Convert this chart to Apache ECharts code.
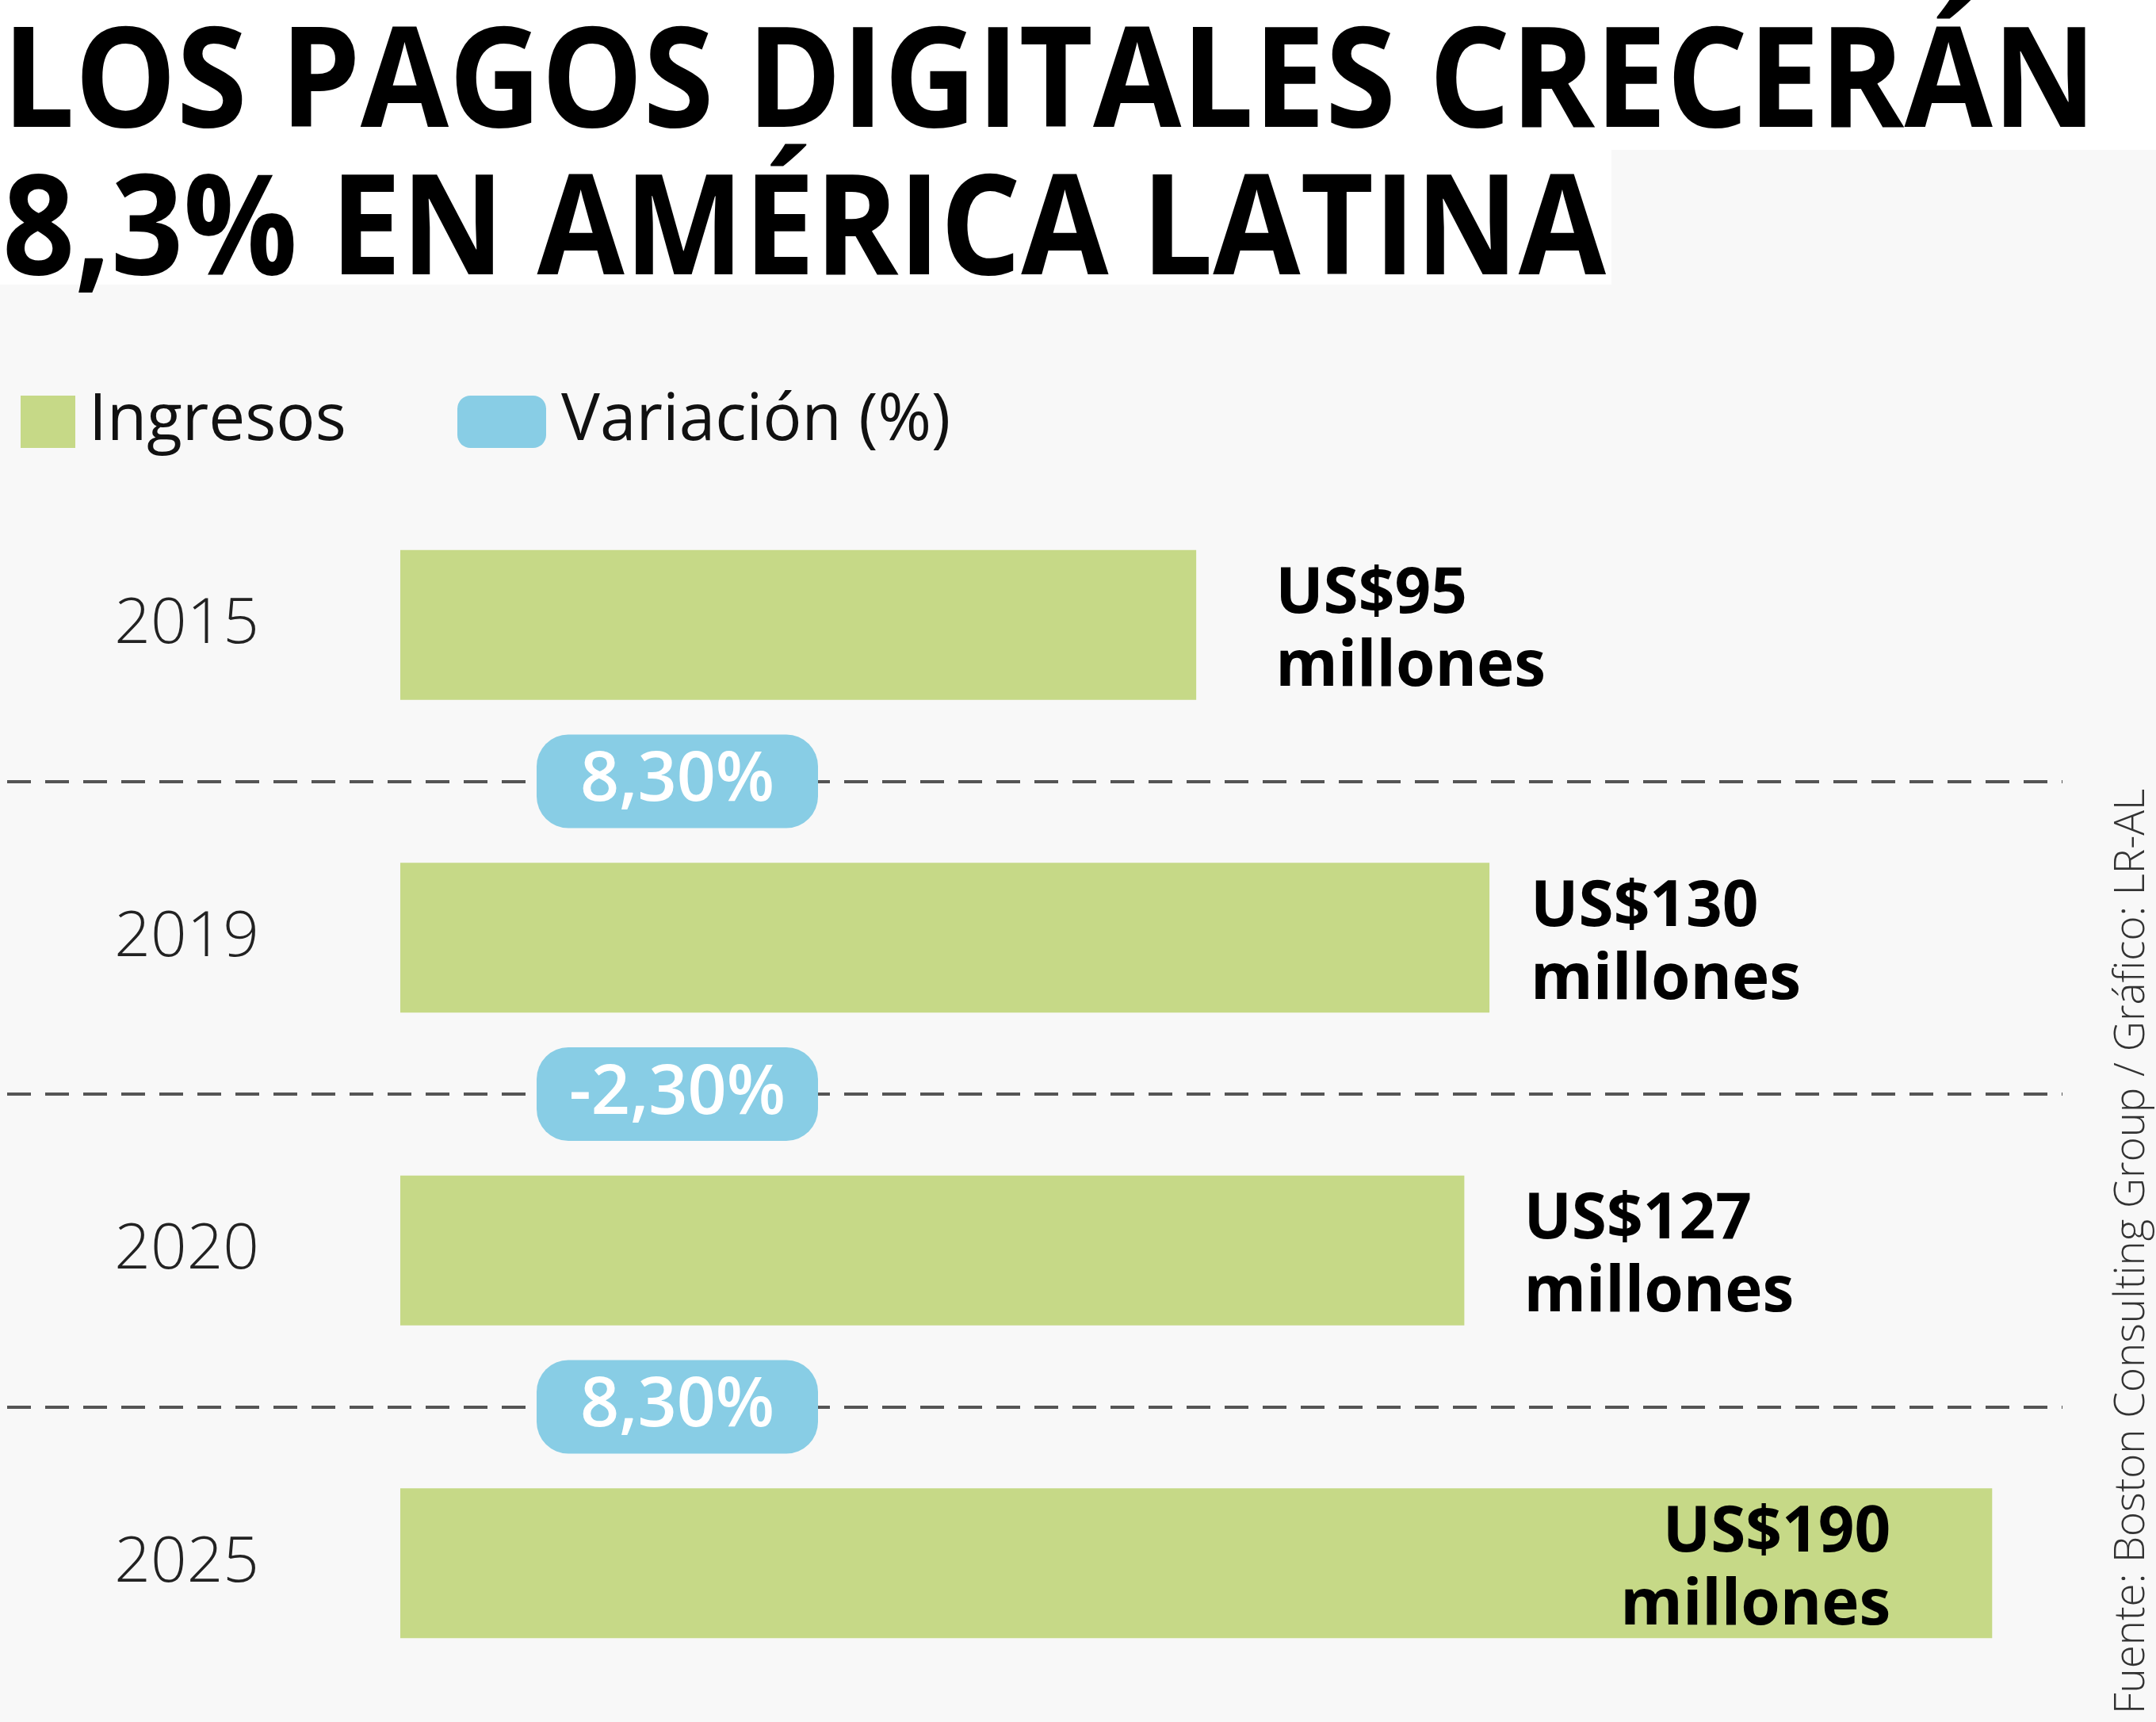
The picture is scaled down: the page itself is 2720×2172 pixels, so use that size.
<!DOCTYPE html>
<html>
<head>
<meta charset="UTF-8">
<title>Los pagos digitales crecerán 8,3% en América Latina</title>
<style>
    html, body { margin: 0; padding: 0; background: #f8f8f8; }
    #main { width: 2720px; height: 2172px; }
</style>
</head>
<body>
<div id="main"></div>
<script src="https://cdn.jsdelivr.net/npm/echarts@6/dist/echarts.min.js"></script>
<script>
    // datos
    var years = ['2015', '2019', '2020', '2025'];
    var ingresos = [95, 130, 127, 190];          // millones de US$
    var variacion = [8.3, -2.3, 8.3];           // % entre periodos
    var titleLines = ['LOS PAGOS DIGITALES CRECERÁN', '8,3% EN AMÉRICA LATINA'];
    var fuente = 'Fuente: Boston Consulting Group / Gráfico: LR-AL';

    var GREEN = '#c6d987';
    var BLUE = '#88cde5';
    var FAMILY = '"Open Sans", "Noto Sans", sans-serif';
    var TITLE_FONT = 'bold 176px "Open Sans"';
    var SRC_FONT = '300 54px "Open Sans"';
    var labelGap = [100, 52, 75];   // separacion etiqueta-barra, como en el original

    // ancho de texto -> factor de escala horizontal (la tipografia original es condensada)
    function fitScale(text, font, width) {
        var ctx = document.createElement('canvas').getContext('2d');
        ctx.font = font;
        return width / ctx.measureText(text).width;
    }

    var myChart = echarts.init(document.getElementById('main'));

    var option = {
        backgroundColor: '#f8f8f8',
        animation: false,
        textStyle: { fontFamily: FAMILY },
        graphic: [
            { type: 'rect', shape: { x: 0, y: 0, width: 2720, height: 189 }, style: { fill: '#fff' } },
            { type: 'rect', shape: { x: 0, y: 189, width: 2033, height: 170 }, style: { fill: '#fff' } },
            {
                type: 'text', x: 3, y: 110,
                scaleX: fitScale(titleLines[0], TITLE_FONT, 2642),
                style: { text: titleLines[0], font: TITLE_FONT, fill: '#000', textVerticalAlign: 'middle', verticalAlign: 'middle' }
            },
            {
                type: 'text', x: 3, y: 296,
                scaleX: fitScale(titleLines[1], TITLE_FONT, 2023),
                style: { text: titleLines[1], font: TITLE_FONT, fill: '#000', textVerticalAlign: 'middle', verticalAlign: 'middle' }
            },
            {
                type: 'text', x: 2690, y: 2162, rotation: Math.PI / 2,
                scaleX: fitScale(fuente, SRC_FONT, 1167),
                style: { text: fuente, font: SRC_FONT, fill: '#333', textVerticalAlign: 'middle', verticalAlign: 'middle' }
            }
        ],
        legend: [
            {
                data: ['Ingresos'], left: 21, top: 486,
                itemWidth: 69, itemHeight: 66, icon: 'rect', selectedMode: false,
                textStyle: { fontSize: 82, color: '#111', padding: [0, 0, 0, 12] }
            },
            {
                data: ['Variación (%)'], left: 572, top: 486,
                itemWidth: 112, itemHeight: 66, icon: 'roundRect', selectedMode: false,
                textStyle: { fontSize: 82, color: '#111', padding: [0, 0, 0, 14] }
            }
        ],
        grid: [
            { left: 505, top: 591, width: 2114, height: 1578 },   // barras
            { left: 9, top: 591, width: 2593, height: 1578 },     // lineas punteadas
            { left: 677, top: 591, width: 355, height: 1578 }     // etiquetas de variacion
        ],
        xAxis: [
            { gridIndex: 0, type: 'value', min: 0, max: 200, show: false },
            { gridIndex: 1, type: 'value', min: 0, max: 1, show: false },
            { gridIndex: 2, type: 'category', data: ['var'], show: false }
        ],
        yAxis: [
            {
                gridIndex: 0, type: 'category', data: years, inverse: true,
                axisLine: { show: false }, axisTick: { show: false }, splitLine: { show: false },
                axisLabel: { margin: 178, fontSize: 80, fontWeight: 300, color: '#222' }
            },
            {
                gridIndex: 1, type: 'category', data: years, inverse: true,
                axisLine: { show: false }, axisTick: { show: false }, axisLabel: { show: false },
                splitLine: {
                    show: true, showMinLine: false, showMaxLine: false,
                    lineStyle: { color: '#555', width: 4, type: [30, 18] }
                }
            },
            { gridIndex: 2, type: 'value', min: 0, max: years.length, inverse: true, show: false }
        ],
        series: [
            {
                name: 'Ingresos',
                type: 'bar',
                xAxisIndex: 0,
                yAxisIndex: 0,
                barWidth: 189,
                itemStyle: { color: GREEN },
                emphasis: { disabled: true },
                label: {
                    show: true,
                    position: 'right',
                    formatter: function (p) { return 'US$' + p.value + '\nmillones'; },
                    fontSize: 80,
                    fontWeight: 'bold',
                    lineHeight: 92,
                    offset: [0, 8],
                    color: '#000'
                },
                // la ultima barra lleva la etiqueta por dentro
                data: ingresos.map(function (v, i) {
                    if (i === ingresos.length - 1) {
                        return { value: v, label: { position: 'insideRight', distance: 128 } };
                    }
                    return { value: v, label: { distance: labelGap[i] } };
                })
            },
            {
                name: 'Variación (%)',
                type: 'scatter',
                xAxisIndex: 2,
                yAxisIndex: 2,
                symbol: 'circle',
                symbolSize: 2,
                itemStyle: { color: BLUE, opacity: 1 },
                emphasis: { disabled: true },
                z: 5,
                label: {
                    show: true,
                    position: 'inside',
                    formatter: function (p) { return p.value[2].toFixed(2).replace('.', ',') + '%'; },
                    color: '#fff',
                    fontSize: 86,
                    fontWeight: 600,
                    backgroundColor: BLUE,
                    borderRadius: 40,
                    width: 355,
                    height: 118,
                    lineHeight: 118,
                    align: 'center',
                    verticalAlign: 'middle'
                },
                data: variacion.map(function (v, i) { return [0, i + 1, v]; })
            }
        ]
    };

    myChart.setOption(option);
</script>
</body>
</html>
